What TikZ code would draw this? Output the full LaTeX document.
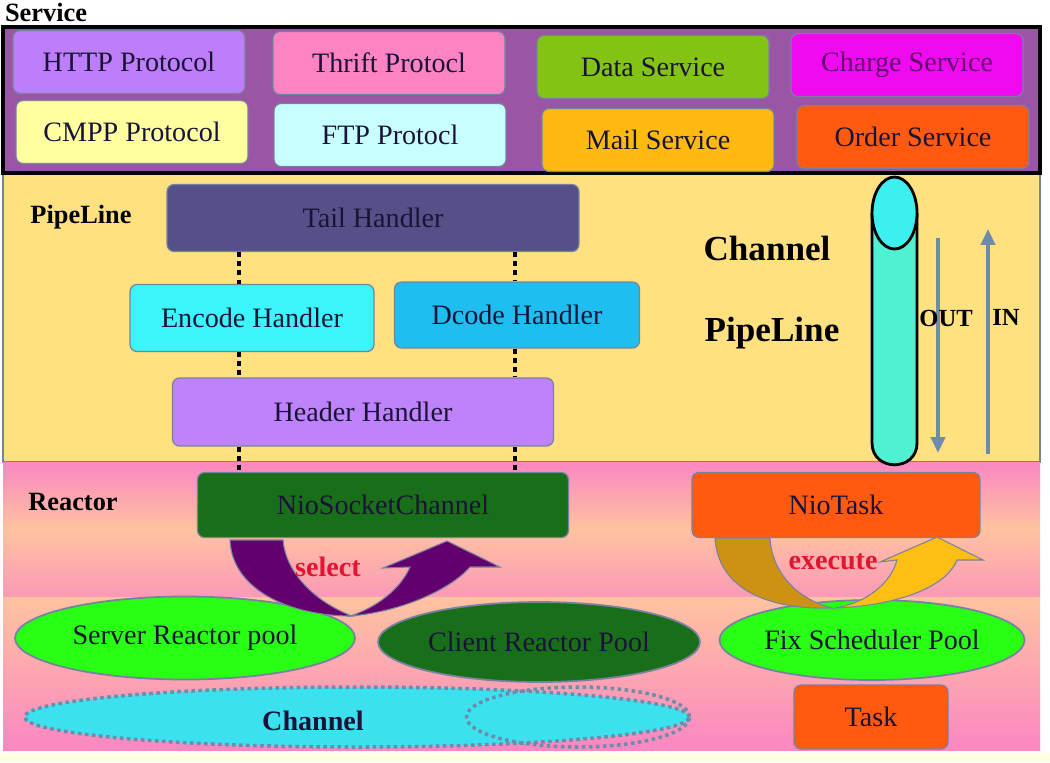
\documentclass[tikz,border=0pt]{standalone}
\usepackage{fontspec}
\setmainfont{Liberation Serif}
\usepackage{xcolor}
\usepackage{tikz}
\usetikzlibrary{shapes.geometric,arrows.meta}

\definecolor{svcpurple}{RGB}{155,85,165}
\definecolor{httpc}{RGB}{190,125,250}
\definecolor{cmppc}{RGB}{255,255,160}
\definecolor{thriftc}{RGB}{255,130,195}
\definecolor{ftpc}{RGB}{200,255,255}
\definecolor{datac}{RGB}{130,195,20}
\definecolor{mailc}{RGB}{255,185,15}
\definecolor{chargec}{RGB}{240,10,240}
\definecolor{orderc}{RGB}{255,90,15}
\definecolor{pipebg}{RGB}{255,225,130}
\definecolor{tailc}{RGB}{85,80,135}
\definecolor{encc}{RGB}{60,245,250}
\definecolor{dcodec}{RGB}{30,190,240}
\definecolor{headc}{RGB}{190,130,250}
\definecolor{nioc}{RGB}{25,110,25}
\definecolor{limec}{RGB}{40,255,20}
\definecolor{chanc}{RGB}{60,225,240}
\definecolor{selectc}{RGB}{100,0,110}
\definecolor{exleft}{RGB}{205,145,20}
\definecolor{exright}{RGB}{255,190,20}
\definecolor{redtxt}{RGB}{225,20,50}
\definecolor{arrowgray}{RGB}{110,140,170}
\definecolor{cylbody}{RGB}{80,240,210}
\definecolor{cyltop}{RGB}{60,240,240}
\definecolor{pinkc}{RGB}{250,135,195}
\definecolor{peachc}{RGB}{255,195,160}
\definecolor{edgec}{RGB}{120,130,160}
\definecolor{txtc}{RGB}{25,20,55}
\definecolor{stripc}{RGB}{255,255,225}

\begin{document}
\begin{tikzpicture}[x=0.02cm, y=-0.02cm,
        box/.style={draw=edgec, line width=0.7pt, rounded corners=4pt, inner sep=0pt, text=txtc, font=\fontsize{16}{18}\selectfont},
        svcbox/.style={box, minimum width=4.64cm, minimum height=1.26cm},
        pool/.style={ellipse, draw=edgec, line width=1pt, inner sep=0pt, text=txtc, font=\fontsize{16}{18}\selectfont},
        tag/.style={font=\bfseries\fontsize{15}{17}\selectfont},
        bigtag/.style={font=\bfseries\fontsize{20}{22}\selectfont},
        dotline/.style={line width=1.8pt, dash pattern=on 2.8pt off 2.4pt},
        flow/.style={arrowgray, line width=2pt, -{Triangle[length=9pt,width=8pt]}},
        bigarrow/.style={draw=edgec, line width=0.6pt}]
        \useasboundingbox (0,0) rectangle (1050,762);

        % Backgrounds
        \fill[white] (0,0) rectangle (1050,762);
        \fill[stripc] (0,753) rectangle (1050,762);
        \fill[pipebg, draw=edgec, line width=0.8pt] (3,173) rectangle (1040,462);
        \shade[top color=pinkc, bottom color=pinkc!70!peachc, middle color=peachc] (3,462) rectangle (1040,597);
        \shade[top color=peachc, bottom color=pinkc] (3,597) rectangle (1040,750);
        \draw[fill=svcpurple, line width=2pt] (3,27) rectangle (1040,173);

        % Service
        \node[tag] (svclbl) at (46,12) {Service};
        \node[svcbox, fill=httpc] (http) at (129,62) {HTTP Protocol};
        \node[svcbox, fill=cmppc] (cmpp) at (132,132) {CMPP Protocol};
        \node[svcbox, fill=thriftc] (thrift) at (389,63) {Thrift Protocl};
        \node[svcbox, fill=ftpc] (ftp) at (390,135) {FTP Protocl};
        \node[svcbox, fill=datac] (data) at (653,67) {Data Service};
        \node[svcbox, fill=mailc] (mail) at (658,140) {Mail Service};
        \node[svcbox, fill=chargec, text=selectc] (charge) at (907,65) {Charge Service};
        \node[svcbox, fill=orderc] (order) at (913,137) {Order Service};

        % PipeLine
        \node[tag] (pipelbl) at (81,217) {PipeLine};
        \node[box, fill=tailc, minimum width=8.24cm, minimum height=1.34cm] (tail) at (373,218) {Tail Handler};
        \node[box, fill=encc, minimum width=4.88cm, minimum height=1.34cm] (enc) at (252,318) {Encode Handler};
        \node[box, fill=dcodec, minimum width=4.9cm, minimum height=1.32cm] (dcode) at (517,315) {Dcode Handler};
        \node[box, fill=headc, minimum width=7.62cm, minimum height=1.36cm] (head) at (363,412) {Header Handler};
        \node[bigtag] (chanlbl) at (767,248) {Channel};
        \node[bigtag] (pipebig) at (772,333) {PipeLine};

        % Reactor
        \node[tag] (reactlbl) at (73,502) {Reactor};
        \node[box, fill=nioc, minimum width=7.42cm, minimum height=1.3cm] (nio) at (383,505) {NioSocketChannel};
        \node[box, fill=orderc, minimum width=5.76cm, minimum height=1.3cm] (niotask) at (836,505) {NioTask};
        \node[pool, fill=limec, minimum width=6.8cm, minimum height=1.66cm] (server) at (185,638) {Server Reactor pool};
        \node[pool, fill=nioc, minimum width=6.44cm, minimum height=1.6cm] (client) at (539,642) {Client Reactor Pool};
        \node[pool, fill=limec, minimum width=6.1cm, minimum height=1.6cm] (fix) at (872,640) {Fix Scheduler Pool};
        \node[pool, fill=chanc, draw=arrowgray, line width=2pt, dotted, minimum width=13.3cm, minimum height=1.2cm] (chan) at (357,717) {};
        \node[pool, draw=arrowgray, line width=2pt, dotted, minimum width=4.46cm, minimum height=1.2cm] (chan2) at (578,717) {};
        \node[font=\bfseries\fontsize{16}{18}\selectfont, text=txtc] (chantxt) at (313,721) {Channel};
        \node[box, fill=orderc, minimum width=3.08cm, minimum height=1.28cm] (task) at (871,717) {Task};

        % handler chain
        \coordinate (lft) at (239,0);
        \coordinate (rgt) at (515,0);
        \draw[dotline] (tail.south -| lft) -- (enc.north -| lft);
        \draw[dotline] (enc.south -| lft) -- (head.north -| lft);
        \draw[dotline] (head.south -| lft) -- (nio.north -| lft);
        \draw[dotline] (tail.south -| rgt) -- (dcode.north -| rgt);
        \draw[dotline] (dcode.south -| rgt) -- (head.north -| rgt);
        \draw[dotline] (head.south -| rgt) -- (nio.north -| rgt);

        % select / execute
        \fill[selectc, bigarrow] (230,540) .. controls (232,590) and (290,616) .. (352,616)
            .. controls (318,603) and (286,575) .. (283,540) -- cycle;
        \fill[selectc, bigarrow] (350,616) .. controls (400,612) and (450,590) .. (470,567)
            -- (500,567) -- (447,541) -- (383,568) -- (410,567)
            .. controls (400,590) and (375,608) .. (350,616) -- cycle;
        \fill[exleft, bigarrow] (715,538) .. controls (718,590) and (770,610) .. (832,608)
            .. controls (800,600) and (772,575) .. (770,538) -- cycle;
        \fill[exright, bigarrow] (835,608) .. controls (890,606) and (945,590) .. (957,560)
            -- (983,560) -- (937,537) -- (880,562) -- (897,560)
            .. controls (890,585) and (865,603) .. (835,608) -- cycle;
        \node[font=\bfseries\fontsize{16}{18}\selectfont, text=redtxt] (seltxt) at (328,567) {select};
        \node[font=\bfseries\fontsize{16}{18}\selectfont, text=redtxt] (extxt) at (833,562) {execute};

        % channel pipe
        \draw[fill=cylbody, line width=1.6pt] (872,213) -- (872,443) .. controls (872,472) and (917,472) .. (917,443) -- (917,213);
        \draw[fill=cyltop, line width=1.6pt] (894.5,213) ellipse [x radius=22.5, y radius=36];
        \coordinate (outtop) at (938,238);
        \coordinate (outbot) at (938,453);
        \coordinate (inbot) at (988,454);
        \coordinate (intop) at (988,229);
        \draw[flow] (outtop) -- (outbot);
        \draw[flow] (inbot) -- (intop);
        \node[font=\bfseries\fontsize{14}{16}\selectfont] (outtxt) at (946,318) {OUT};
        \node[font=\bfseries\fontsize{14}{16}\selectfont] (intxt) at (1006,317) {IN};
    \end{tikzpicture}
\end{document}
